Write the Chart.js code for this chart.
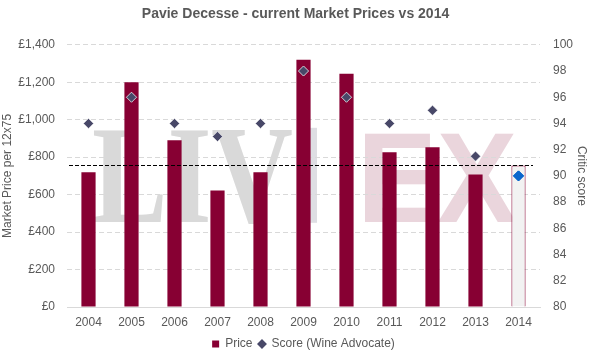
<!DOCTYPE html>
<html>
<head>
<meta charset="utf-8">
<script src="https://cdn.jsdelivr.net/npm/chart.js@4/dist/chart.umd.min.js"></script>
<style>
html,body{margin:0;padding:0;background:#fff;}
#wrap{width:591px;height:355px;position:relative;}
</style>
</head>
<body>
<div id="wrap"><canvas id="c" width="591" height="355"></canvas></div>
<script>
const categories = ['2004','2005','2006','2007','2008','2009','2010','2011','2012','2013','2014'];
const priceValues = [720, 1200, 890, 622, 720, 1320, 1245, 826, 853, 708, 756];
const scoreValues = [94, 96, 94, 93, 94, 98, 96, 94, 95, 91.5, 90];
const referencePrice = 756; // 2014 price reference line
const priceTicks = [0, 200, 400, 600, 800, 1000, 1200, 1400];
const scoreTicks = [80, 82, 84, 86, 88, 90, 92, 94, 96, 98, 100];

const FONT = "'Liberation Sans', Arial, sans-serif";
const TXT = '#595959';
const CRIMSON = '#870033';

const barFill = categories.map((c, i) => i === categories.length - 1 ? '#f2f2f2' : CRIMSON);
const pointFill = categories.map((c, i) => i === categories.length - 1 ? '#0b66cc' : '#484868');
const pointBorder = categories.map((c, i) => i === categories.length - 1 ? '#0b66cc' : 'rgba(255,255,255,0.55)');

const bgPlugin = {
  id: 'bgWatermark',
  beforeDraw(chart) {
    const ctx = chart.ctx;
    const a = chart.chartArea;
    ctx.save();
    ctx.fillStyle = '#fff';
    ctx.fillRect(0, 0, chart.width, chart.height);
    // Liv-ex watermark
    const top = a.top + 85, bottom = a.top + 177;
    const h = bottom - top;
    ctx.font = "bold " + (h / 0.662).toFixed(1) + "px 'Liberation Serif', 'Times New Roman', serif";
    ctx.textBaseline = 'alphabetic';
    let w = ctx.measureText('LIV').width;
    let tw = 201;
    ctx.save();
    ctx.translate(a.left + 25, bottom);
    ctx.scale(tw / w, 1);
    ctx.fillStyle = '#d9d9d9';
    ctx.fillText('LIV', 0, 0);
    ctx.restore();
    ctx.fillStyle = '#dedee3';
    ctx.fillRect(a.left + 243, top - 2, 7, h + 3);
    ctx.font = "bold " + (h / 0.716).toFixed(1) + "px 'Liberation Sans', Arial, sans-serif";
    w = ctx.measureText('EX').width;
    tw = 160;
    ctx.save();
    ctx.translate(a.left + 290, bottom);
    ctx.scale(tw / w, 1);
    ctx.fillStyle = '#ead5dc';
    ctx.fillText('EX', 0, 0);
    ctx.restore();
    ctx.restore();
  }
};

const refLinePlugin = {
  id: 'refLine',
  afterDatasetsDraw(chart) {
    const ctx = chart.ctx;
    const a = chart.chartArea;
    const y = Math.round(chart.scales.y.getPixelForValue(referencePrice)) + 0.5;
    ctx.save();
    ctx.strokeStyle = '#000';
    ctx.lineWidth = 1;
    ctx.setLineDash([4, 2]);
    ctx.beginPath();
    ctx.moveTo(a.left + 2, y);
    ctx.lineTo(a.right - 7, y);
    ctx.stroke();
    ctx.restore();
    const meta = chart.getDatasetMeta(1);
    meta.data.forEach(el => el.draw(ctx, a));
  }
};

new Chart(document.getElementById('c'), {
  data: {
    labels: categories,
    datasets: [
      {
        type: 'bar',
        label: 'Price',
        data: priceValues,
        yAxisID: 'y',
        backgroundColor: barFill,
        borderColor: CRIMSON,
        borderWidth: categories.map((c, i) => i === categories.length - 1 ? 1 : 0),
        barPercentage: 0.33,
        categoryPercentage: 1.0,
        order: 2
      },
      {
        type: 'line',
        label: 'Score (Wine Advocate)',
        data: scoreValues,
        yAxisID: 'y1',
        showLine: false,
        pointStyle: 'rectRot',
        pointRadius: 5,
        pointHoverRadius: 5,
        pointBackgroundColor: pointFill,
        pointBorderColor: pointBorder,
        pointBorderWidth: 1,
        backgroundColor: '#484868',
        borderColor: '#484868',
        order: 1
      }
    ]
  },
  options: {
    responsive: false,
    animation: false,
    devicePixelRatio: 1,
    layout: { padding: { left: 0, right: 0, top: 0, bottom: -5 } },
    plugins: {
      title: {
        display: true,
        text: 'Pavie Decesse - current Market Prices vs 2014',
        color: TXT,
        font: { family: FONT, size: 14, weight: 'bold' },
        padding: { top: 6, bottom: 22 }
      },
      legend: {
        position: 'bottom',
        fullSize: false,
        labels: {
          color: TXT,
          font: { family: FONT, size: 12 },
          usePointStyle: true,
          boxWidth: 7,
          boxHeight: 7,
          padding: 6,
          generateLabels(chart) {
            return [
              { text: 'Price', fillStyle: CRIMSON, strokeStyle: CRIMSON, lineWidth: 0, pointStyle: 'rect', datasetIndex: 0, fontColor: TXT },
              { text: 'Score (Wine Advocate)', fillStyle: '#484868', strokeStyle: '#484868', lineWidth: 0, pointStyle: 'rectRot', datasetIndex: 1, fontColor: TXT }
            ];
          }
        }
      },
      tooltip: { enabled: false }
    },
    scales: {
      x: {
        grid: { display: false, drawTicks: false },
        border: { color: '#d9d9d9', width: 1 },
        ticks: { color: TXT, font: { family: FONT, size: 12 }, padding: 8 },
        afterFit(scale) { scale.height = 25; }
      },
      y: {
        position: 'left',
        min: 0,
        max: 1400,
        afterBuildTicks(scale) { scale.ticks = priceTicks.map(v => ({ value: v })); },
        afterFit(scale) { scale.width = 67; },
        grid: { color: '#d9d9d9', drawTicks: false },
        border: { display: true, width: 0, color: 'rgba(0,0,0,0)', dash: [5, 3] },
        ticks: {
          color: TXT,
          font: { family: FONT, size: 12 },
          padding: 12,
          callback: v => '£' + v.toLocaleString('en-GB')
        },
        title: {
          display: true,
          text: 'Market Price per 12x75',
          color: TXT,
          font: { family: FONT, size: 12 },
          padding: { top: 0, bottom: 2 }
        }
      },
      y1: {
        position: 'right',
        min: 80,
        max: 100,
        afterBuildTicks(scale) { scale.ticks = scoreTicks.map(v => ({ value: v })); },
        afterFit(scale) { scale.width = 51; },
        grid: { display: false, drawTicks: false },
        border: { display: false },
        ticks: {
          color: TXT,
          font: { family: FONT, size: 12 },
          padding: 13
        },
        title: {
          display: true,
          text: 'Critic score',
          color: TXT,
          font: { family: FONT, size: 12 },
          padding: { top: 2, bottom: 4 }
        }
      }
    }
  },
  plugins: [bgPlugin, refLinePlugin]
});
</script>
</body>
</html>
